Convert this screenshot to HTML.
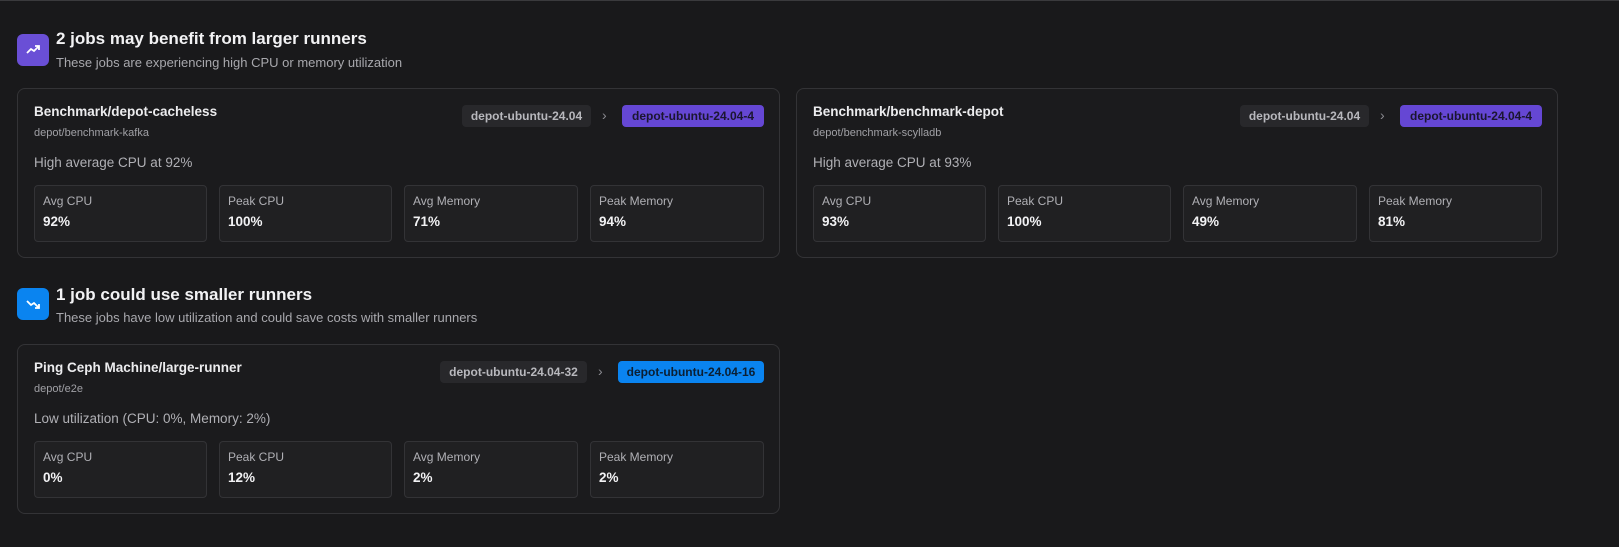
<!DOCTYPE html>
<html><head><meta charset="utf-8"><style>
*{box-sizing:border-box;margin:0;padding:0}
body{width:1619px;height:547px;background:#19191b;font-family:"Liberation Sans",sans-serif;color:#ececee;position:relative;overflow:hidden;border-top:1px solid #3a3a3d}
.abs{position:absolute}
.icon{width:32px;height:32px;border-radius:6px;display:flex;align-items:center;justify-content:center}
.h{font-size:17px;font-weight:bold;color:#f2f2f4;white-space:nowrap}
.sub{font-size:13px;color:#a8a8ad;white-space:nowrap}
.card{border:1px solid #333336;border-radius:8px;background:#1b1b1d}
.ct{font-size:13.5px;font-weight:bold;position:absolute;left:16px;top:15px;white-space:nowrap}
.cs{font-size:11px;color:#a0a0a5;position:absolute;left:16px;top:38px}
.cd{font-size:13.5px;color:#b0b0b5;position:absolute;left:16px;top:66px;white-space:nowrap}
.m{position:absolute;top:96px;height:57px;border:1px solid #333336;border-radius:4px;background:#202022}
.m .l{position:absolute;left:8px;top:8px;font-size:12px;color:#b0b0b5}
.m .v{position:absolute;left:8px;top:28px;font-size:13.5px;font-weight:bold;color:#f2f2f4}
.b{position:absolute;top:16px;height:22px;border-radius:4px;font-size:12px;font-weight:bold;display:flex;align-items:center;justify-content:center;white-space:nowrap}
.g{background:#28282b;color:#b8b8bd}
.p{background:#6547d4;color:#1b1630}
.bl{background:#0a84f0;color:#0b1f33}
.chev{position:absolute;top:18px;color:#8a8a90;font-size:14px}
</style></head><body>

<div class="abs icon" style="left:17px;top:33px;background:#6a4fd6">
<svg width="16" height="16" viewBox="0 0 16 16"><path d="M2 11 L6 7 L9 9 L14 4 M10 4 H14 V8" stroke="#fff" stroke-width="1.8" fill="none"/></svg></div>
<div class="abs h" style="left:56px;top:28px">2 jobs may benefit from larger runners</div>
<div class="abs sub" style="left:56px;top:54px">These jobs are experiencing high CPU or memory utilization</div>

<div class="abs card" style="left:17px;top:87px;width:763px;height:170px">
<div class="ct">Benchmark/depot-cacheless</div>
<div class="cs">depot/benchmark-kafka</div>
<div class="cd">High average CPU at 92%</div>
<div class="b g" style="left:444px;width:129px">depot-ubuntu-24.04</div>
<div class="chev" style="left:584px">›</div>
<div class="b p" style="left:604px;width:142px">depot-ubuntu-24.04-4</div>
<div class="m" style="left:16px;width:173px"><div class="l">Avg CPU</div><div class="v">92%</div></div>
<div class="m" style="left:201px;width:173px"><div class="l">Peak CPU</div><div class="v">100%</div></div>
<div class="m" style="left:386px;width:174px"><div class="l">Avg Memory</div><div class="v">71%</div></div>
<div class="m" style="left:572px;width:174px"><div class="l">Peak Memory</div><div class="v">94%</div></div>
</div>

<div class="abs card" style="left:796px;top:87px;width:762px;height:170px">
<div class="ct">Benchmark/benchmark-depot</div>
<div class="cs">depot/benchmark-scylladb</div>
<div class="cd">High average CPU at 93%</div>
<div class="b g" style="left:443px;width:129px">depot-ubuntu-24.04</div>
<div class="chev" style="left:583px">›</div>
<div class="b p" style="left:603px;width:142px">depot-ubuntu-24.04-4</div>
<div class="m" style="left:16px;width:173px"><div class="l">Avg CPU</div><div class="v">93%</div></div>
<div class="m" style="left:201px;width:173px"><div class="l">Peak CPU</div><div class="v">100%</div></div>
<div class="m" style="left:386px;width:174px"><div class="l">Avg Memory</div><div class="v">49%</div></div>
<div class="m" style="left:572px;width:173px"><div class="l">Peak Memory</div><div class="v">81%</div></div>
</div>

<div class="abs icon" style="left:17px;top:287px;background:#0a84f0">
<svg width="16" height="16" viewBox="0 0 16 16"><path d="M2 5 L6 9 L9 7 L14 12 M10 12 H14 V8" stroke="#fff" stroke-width="1.8" fill="none"/></svg></div>
<div class="abs h" style="left:56px;top:284px">1 job could use smaller runners</div>
<div class="abs sub" style="left:56px;top:309px">These jobs have low utilization and could save costs with smaller runners</div>

<div class="abs card" style="left:17px;top:343px;width:763px;height:170px">
<div class="ct">Ping Ceph Machine/large-runner</div>
<div class="cs">depot/e2e</div>
<div class="cd">Low utilization (CPU: 0%, Memory: 2%)</div>
<div class="b g" style="left:422px;width:147px">depot-ubuntu-24.04-32</div>
<div class="chev" style="left:580px">›</div>
<div class="b bl" style="left:600px;width:146px">depot-ubuntu-24.04-16</div>
<div class="m" style="left:16px;width:173px"><div class="l">Avg CPU</div><div class="v">0%</div></div>
<div class="m" style="left:201px;width:173px"><div class="l">Peak CPU</div><div class="v">12%</div></div>
<div class="m" style="left:386px;width:174px"><div class="l">Avg Memory</div><div class="v">2%</div></div>
<div class="m" style="left:572px;width:174px"><div class="l">Peak Memory</div><div class="v">2%</div></div>
</div>
</body></html>
